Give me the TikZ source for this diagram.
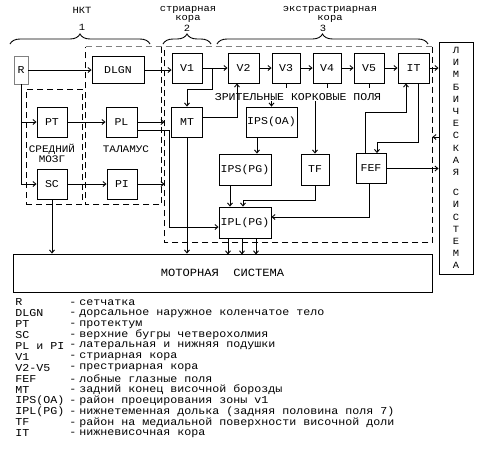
\documentclass[tikz,border=0pt]{standalone}
\usepackage{fontspec}
\setmainfont[FakeStretch=1.1]{Liberation Mono}
\usetikzlibrary{arrows.meta}
\usetikzlibrary{decorations.pathreplacing}

\begin{document}
\begin{tikzpicture}[x=1pt,y=-1pt,line width=0.9pt,
blk/.style={draw,rectangle,inner sep=0pt,minimum height=30pt,font=\fontsize{10.5}{12}\selectfont},
zona/.style={dash pattern=on 6pt off 4pt},
strl/.style={-{Straight Barb[length=3pt,width=5pt]}},
skobka/.style={decorate,decoration={brace,amplitude=10pt}},
zag/.style={font=\fontsize{9.5}{9.5}\selectfont,align=center,inner sep=0pt},
leg/.style={font=\fontsize{10.6}{11}\selectfont,inner sep=0pt,anchor=west}]
\useasboundingbox (0,0) rectangle (485,456);

\path (82,10) node(nkt) [zag]{НКТ};
\path (188,14.5) node(str) [zag]{стриарная\\кора};
\path (330,14.5) node(ekstr) [zag]{экстрастриарная\\кора};

\draw[skobka] (10,44) -- (150,44);
\path (82,27) node(n1) [zag]{1};
\draw[skobka] (163,44) -- (211,44);
\path (187,28) node(n2) [zag]{2};
\draw[skobka] (217,44) -- (428,44);
\path (323,28) node(n3) [zag]{3};

%зоны
\path (54,146.5) node(mozg) [draw,zona,inner sep=0pt,minimum width=56pt,minimum height=115pt]{};
\path (123.5,125.5) node(talamus) [inner sep=0pt,minimum width=75pt,minimum height=157pt]{};
\path (298.5,144.5) node(kora) [inner sep=0pt,minimum width=267pt,minimum height=195pt]{};
\draw[zona] (talamus.north east) |- (talamus.south west) -- (talamus.north west);
\draw[zona] (kora.north east) |- (kora.south west) -- (kora.north west);
\draw[zona,gray] (talamus.north west) -- (kora.north east);
\path (52,153) node(sm) [zag,font=\fontsize{10}{10}\selectfont]{СРЕДНИЙ\\МОЗГ};
\path (126,149) node(tl) [zag,font=\fontsize{10}{10}\selectfont]{ТАЛАМУС};

\path (21,70) node(r) [blk,draw=gray,minimum width=14pt,minimum height=28pt]{R};
\path (118,70) node(dlgn) [blk,minimum width=52pt,minimum height=27pt]{DLGN};
\path (187,68) node(v1) [blk,minimum width=30pt]{V1};
\path (243.5,68) node(v2) [blk,minimum width=31pt]{V2};
\path (286,68) node(v3) [blk,minimum width=28pt]{V3};
\path (327,68) node(v4) [blk,minimum width=28pt]{V4};
\path (369,68) node(v5) [blk,minimum width=30pt]{V5};
\path (413.5,68) node(it) [blk,minimum width=31pt]{IT};
\path (52,122) node(pt) [blk,minimum width=30pt]{PT};
\path (121.5,122) node(pl) [blk,minimum width=31pt]{PL};
\path (52,184) node(sc) [blk,minimum width=30pt]{SC};
\path (122,184) node(pi) [blk,minimum width=30pt]{PI};
\path (187,122) node(mt) [blk,minimum width=31pt]{MT};
\path (298,97) node(polya) [zag,font=\fontsize{10.5}{12}\selectfont]{ЗРИТЕЛЬНЫЕ КОРКОВЫЕ ПОЛЯ};
\path (271.5,122) node(ipsoa) [blk,minimum width=51pt]{IPS(OA)};
\path (245,169.5) node(ipspg) [blk,minimum width=52pt,minimum height=31pt]{IPS(PG)};
\path (315,169.5) node(tf) [blk,minimum width=28pt,minimum height=31pt]{TF};
\path (371,168.5) node(fef) [blk,minimum width=30pt]{FEF};
\path (245,222.5) node(iplpg) [blk,minimum width=52pt,minimum height=31pt]{IPL(PG)};
\path (222.5,273) node(motor) [blk,minimum width=419pt,minimum height=38pt,font=\fontsize{11}{12}\selectfont]{МОТОРНАЯ~~СИСТЕМА};
\path (456,158) node(limb) [blk,minimum width=34pt,minimum height=232pt,align=center,font=\fontsize{9.5}{12.2}\selectfont]{Л\\И\\М\\Б\\И\\Ч\\Е\\С\\К\\А\\Я\\[8pt]С\\И\\С\\Т\\Е\\М\\А};

%связи
\draw[strl] (r) -- (dlgn);
\draw[strl] (dlgn) -- (v1.west |- dlgn);
\draw[strl] (v1) -- (v2);
\draw[strl] (v2) -- (v3);
\draw[strl] (v3) -- (v4);
\draw[strl] (v4) -- (v5);
\draw[strl] (v5) -- (it);
\draw[strl] (it) -- (it -| limb.west);
\coordinate (j1) at (212,68);
\draw[strl] (j1) -- ++(0,21) -| (mt.north);
\draw[strl] ([yshift=5pt]mt.east) -| ([xshift=-6.5pt]v2.south);
\foreach \v in {v3,v4,v5} \draw (\v.south) -- ++(0,5);
\draw[strl] (polya.south -| ipsoa) -- (ipsoa.north);
\draw[strl] (polya.south -| tf) -- (tf.north);
\draw[strl] ([xshift=-14.5pt]ipsoa.south) -- ([xshift=12pt]ipspg.north);
\draw[strl] ([xshift=-15pt]ipspg.south) -- ([xshift=-15pt]iplpg.north);
\draw[strl] (tf.south) -- ++(0,15) -| ([xshift=-2pt]iplpg.north);
\draw[strl] ([xshift=4.5pt]it.south) -- ++(0,59) -| ([xshift=6pt]fef.north);
\draw[strl] ([xshift=-6pt]fef.north) -- ++(0,-41) -| ([xshift=-7.5pt]it.south);
\draw[strl] (fef) -- (fef -| limb.west);
\draw[strl] ([xshift=-2pt]fef.south) |- ([yshift=5.5pt]iplpg.east);
\coordinate (lk) at ([yshift=21pt]limb.west);
\draw[strl] (lk) -- (lk -| kora.east);
\draw[strl] (r.south) |- (pt.west);
\draw[strl] (r.south) |- (sc.west);
\draw[strl] (pt) -- (pl);
\draw[strl] (sc) -- (pi);
\draw[strl] (pl) -- (pl -| kora.west);
\draw[strl] (pi) -- (pi -| kora.west);
\draw[strl] ([yshift=-8pt]pl.east) -- ++(32,0) |- ([yshift=-4.5pt]iplpg.west);
\draw[strl] (sc.south) -- (sc.south |- motor.north);
\draw[strl] (mt.south) -- (mt.south |- motor.north);
\foreach \dx in {-17,-3,11} \draw[strl] ([xshift=\dx pt]iplpg.south) -- ++(0,16);

%обозначения
\foreach \lab/\txt [count=\i] in {R/сетчатка,
 DLGN/дорсальное наружное коленчатое тело,
 PT/протектум,
 SC/верхние бугры четверохолмия,
 PL и PI/латеральная и нижняя подушки,
 V1/стриарная кора,
 V2-V5/престриарная кора,
 FEF/лобные глазные поля,
 MT/задний конец височной борозды,
 IPS(OA)/район проецирования зоны v1,
 IPL(PG)/нижнетеменная долька (задняя половина поля 7),
 TF/район на медиальной поверхности височной доли,
 IT/нижневисочная кора}{
\path (15,{291.6+10.9*\i}) node(l\i) [leg]{\lab};
\path (69,{291.6+10.9*\i}) node(o\i) [leg]{-\hspace{3pt}\txt};
}
\end{tikzpicture}
\end{document}
